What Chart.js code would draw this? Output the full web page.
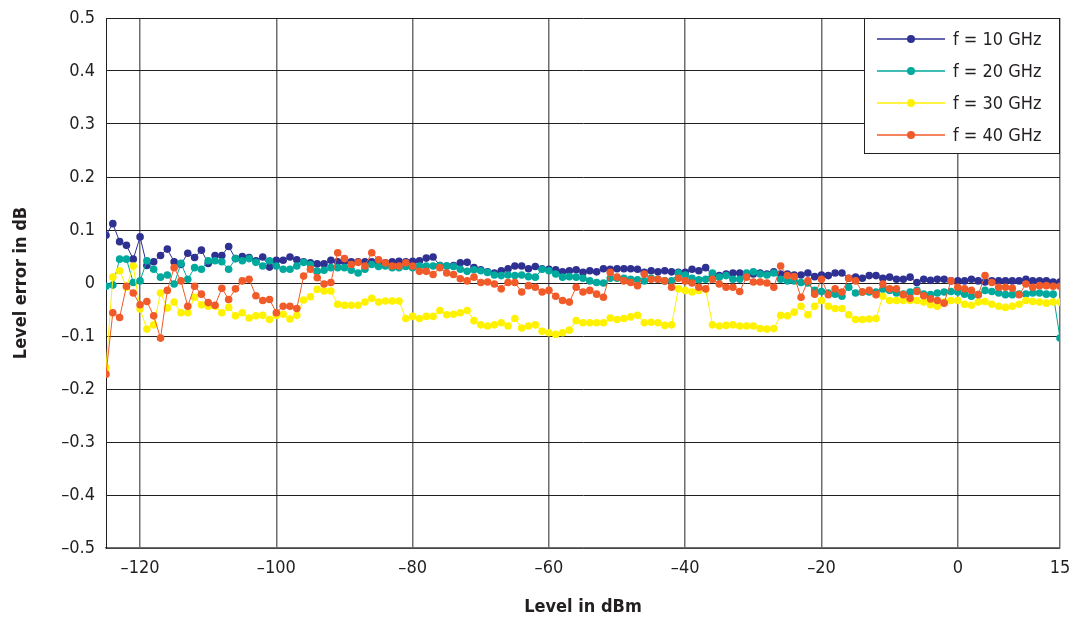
<!DOCTYPE html>
<html>
<head>
<meta charset="utf-8">
<script src="https://cdn.jsdelivr.net/npm/chart.js@4/dist/chart.umd.min.js"></script>
<style>
  html, body { margin: 0; padding: 0; background: #fff; }
  #wrap { width: 1077px; height: 626px; position: relative; }
</style>
</head>
<body>
<div id="wrap"><canvas id="chart"></canvas></div>
<script>
// Уровни (dBm), шаг 1 dB от -125 до 15
const levels = Array.from({ length: 141 }, (_, i) => -125 + i);

const xTickValues = [-120, -100, -80, -60, -40, -20, 0, 15];
const yTickValues = [-0.5, -0.4, -0.3, -0.2, -0.1, 0, 0.1, 0.2, 0.3, 0.4, 0.5];

const seriesNames = ['f = 10 GHz', 'f = 20 GHz', 'f = 30 GHz', 'f = 40 GHz'];
const seriesColors = ['#2e3192', '#00a99d', '#fff200', '#f15a29'];

const err10 = [
  0.09, 0.112, 0.078, 0.071, 0.045, 0.087, 0.033, 0.04, 0.052, 0.064,
  0.04, 0.035, 0.056, 0.048, 0.062, 0.037, 0.052, 0.052, 0.069, 0.046,
  0.05, 0.048, 0.042, 0.049, 0.03, 0.043, 0.043,
  0.049, 0.044, 0.04, 0.038, 0.036, 0.036, 0.043, 0.04, 0.04, 0.04,
  0.04, 0.04, 0.04, 0.038, 0.038, 0.04, 0.041, 0.04, 0.041, 0.042,
  0.047, 0.049, 0.033, 0.032, 0.033, 0.038, 0.039,
  0.029, 0.025, 0.021, 0.019, 0.023, 0.027, 0.032, 0.032, 0.027, 0.031,
  0.027, 0.026, 0.025, 0.021, 0.023, 0.025, 0.02, 0.023, 0.021, 0.027,
  0.026, 0.027, 0.027, 0.027, 0.026, 0.02, 0.023,
  0.021, 0.023, 0.021, 0.02, 0.02, 0.026, 0.023, 0.029, 0.015, 0.014,
  0.017, 0.019, 0.019, 0.014, 0.017, 0.019, 0.017, 0.021, 0.017, 0.017,
  0.015, 0.015, 0.019, 0.012,
  0.015, 0.014, 0.019, 0.019, 0.009, 0.011, 0.009, 0.014, 0.014, 0.009,
  0.011, 0.007, 0.007, 0.011, 0.001, 0.007, 0.005, 0.007, 0.007, 0.004,
  0.004, 0.004, 0.007, 0.004, 0.002, 0.004, 0.004, 0.004, 0.004, 0.004,
  0.007, 0.004, 0.004, 0.004, 0.002, 0.002,
];

const err20 = [
  -0.006, -0.004, 0.045, 0.045, 0.001, 0.004, 0.042, 0.026, 0.011, 0.015,
  -0.002, 0.037, 0.007, 0.029, 0.026, 0.042, 0.042, 0.04, 0.026, 0.046,
  0.042, 0.046, 0.039, 0.032, 0.042, 0.032, 0.026,
  0.026, 0.032, 0.039, 0.035, 0.022, 0.024, 0.029, 0.029, 0.029, 0.024,
  0.019, 0.026, 0.035, 0.031, 0.032, 0.029, 0.029, 0.031, 0.029, 0.032,
  0.032, 0.032, 0.033, 0.032, 0.031, 0.026, 0.022,
  0.025, 0.023, 0.02, 0.015, 0.014, 0.015, 0.014, 0.015, 0.012, 0.011,
  0.026, 0.023, 0.017, 0.011, 0.012, 0.011, 0.009, 0.004, 0.001, 0,
  0.009, 0.009, 0.009, 0.007, 0.006, 0.004, 0.009,
  0.007, 0.004, 0.004, 0.019, 0.015, 0.009, 0.006, 0.007, 0.019, 0.011,
  0.014, 0.007, 0.007, 0.019, 0.021, 0.017, 0.015, 0.019, 0.007, 0.004,
  0.004, 0.001, 0, -0.014,
  -0.016, -0.019, -0.021, -0.025, -0.008, -0.019, -0.017, -0.017, -0.017, -0.012,
  -0.014, -0.019, -0.021, -0.017, -0.014, -0.021, -0.022, -0.019, -0.017, -0.016,
  -0.017, -0.021, -0.025, -0.022, -0.014, -0.016, -0.019, -0.022, -0.022, -0.021,
  -0.021, -0.019, -0.019, -0.021, -0.021, -0.104,
];

const err30 = [
  -0.16, 0.011, 0.023, -0.008, 0.032, -0.049, -0.087, -0.079, -0.019, -0.047,
  -0.036, -0.056, -0.056, -0.027, -0.041, -0.044, -0.044, -0.056, -0.046, -0.062,
  -0.056, -0.066, -0.062, -0.061, -0.069, -0.061, -0.059,
  -0.068, -0.061, -0.032, -0.026, -0.012, -0.015, -0.015, -0.04, -0.042, -0.042,
  -0.042, -0.036, -0.029, -0.036, -0.034, -0.034, -0.034, -0.067, -0.063, -0.067,
  -0.063, -0.063, -0.052, -0.06, -0.059, -0.056, -0.052,
  -0.071, -0.079, -0.081, -0.079, -0.075, -0.081, -0.067, -0.085, -0.081, -0.079,
  -0.091, -0.094, -0.097, -0.094, -0.089, -0.071, -0.075, -0.075, -0.075, -0.075,
  -0.066, -0.069, -0.067, -0.064, -0.061, -0.075, -0.074,
  -0.075, -0.08, -0.079, -0.011, -0.014, -0.017, -0.014, -0.012, -0.079, -0.081,
  -0.08, -0.079, -0.081, -0.081, -0.081, -0.086, -0.087, -0.086, -0.061, -0.062,
  -0.055, -0.044, -0.06, -0.044,
  -0.033, -0.044, -0.048, -0.048, -0.06, -0.069, -0.069, -0.068, -0.067, -0.025,
  -0.033, -0.033, -0.033, -0.033, -0.033, -0.036, -0.041, -0.044, -0.036, -0.033,
  -0.033, -0.04, -0.042, -0.036, -0.035, -0.04, -0.044, -0.046, -0.044, -0.04,
  -0.033, -0.035, -0.036, -0.038, -0.036, -0.036,
];

const err40 = [
  -0.172, -0.056, -0.065, -0.006, -0.019, -0.041, -0.035, -0.062, -0.104, -0.014,
  0.029, 0.004, -0.044, -0.006, -0.021, -0.037, -0.042, -0.01, -0.031, -0.011,
  0.004, 0.007, -0.024, -0.033, -0.031, -0.056, -0.044,
  -0.044, -0.048, 0.013, 0.026, 0.01, -0.002, 0.001, 0.057, 0.046, 0.035,
  0.039, 0.032, 0.057, 0.044, 0.038, 0.032, 0.032, 0.038, 0.032, 0.022,
  0.022, 0.016, 0.029, 0.019, 0.016, 0.008, 0.004,
  0.011, 0.001, 0.002, -0.002, -0.011, 0.001, 0.001, -0.017, -0.005, -0.008,
  -0.017, -0.014, -0.025, -0.033, -0.036, -0.008, -0.017, -0.014, -0.021, -0.027,
  0.02, 0.011, 0.004, 0.001, -0.005, 0.017, 0.007,
  0.007, 0.004, -0.008, 0.009, 0.004, 0, -0.008, -0.011, 0.007, -0.002,
  -0.008, -0.008, -0.016, 0.011, 0.002, 0.002, 0, -0.008, 0.032, 0.014,
  0.012, -0.027, 0.004, -0.021,
  0.007, -0.022, -0.011, -0.017, 0.009, 0.004, -0.017, -0.014, -0.022, -0.002,
  -0.011, -0.011, -0.022, -0.029, -0.016, -0.024, -0.03, -0.033, -0.038, 0.004,
  -0.008, -0.011, -0.014, -0.022, 0.014, 0.001, -0.008, -0.008, -0.01, -0.022,
  -0.002, -0.008, -0.005, -0.005, -0.006, -0.006,
];

const allSeries = [err10, err20, err30, err40];

const FONT = "'Liberation Sans Narrow', 'DejaVu Sans Condensed', 'Arial Narrow', sans-serif";
const TEXT_COLOR = '#231f20';

// en dash вместо минуса, как на оригинале
const fmt = (v) => {
  const r = Math.round(v * 10) / 10;
  if (r === 0) return '0';
  return r < 0 ? '\u2013' + String(-r) : String(r);
};

// Убираем автоматические отступы под подписи, чтобы поле графика стояло точно
const noLabelPadding = (scale) => {
  scale.paddingTop = 0;
  scale.paddingBottom = 0;
  scale.paddingLeft = 0;
  scale.paddingRight = 0;
};

// Легенда внутри поля графика, справа сверху
const insideLegend = {
  id: 'insideLegend',
  afterDraw(chart) {
    const { ctx, chartArea } = chart;
    const boxW = 196, boxH = 136;
    const x0 = chartArea.right - boxW, y0 = chartArea.top;
    ctx.save();
    ctx.fillStyle = '#fff';
    ctx.fillRect(x0, y0, boxW, boxH);
    ctx.strokeStyle = '#231f20';
    ctx.lineWidth = 1;
    ctx.strokeRect(x0 + 0.5, y0 + 0.5, boxW - 1, boxH - 1);
    ctx.font = '18px ' + FONT;
    ctx.textBaseline = 'middle';
    ctx.textAlign = 'left';
    chart.data.datasets.forEach((ds, i) => {
      const cy = y0 + 21 + i * 32;
      ctx.strokeStyle = ds.borderColor;
      ctx.lineWidth = 1.5;
      ctx.beginPath();
      ctx.moveTo(x0 + 13, cy);
      ctx.lineTo(x0 + 81, cy);
      ctx.stroke();
      ctx.fillStyle = ds.pointBackgroundColor;
      ctx.beginPath();
      ctx.arc(x0 + 47, cy, 4, 0, Math.PI * 2);
      ctx.fill();
      ctx.fillStyle = TEXT_COLOR;
      ctx.fillText(ds.label, x0 + 89, cy + 1);
    });
    ctx.restore();
  },
};

const datasets = allSeries.map((vals, i) => ({
  label: seriesNames[i],
  data: levels.map((lv, k) => ({ x: lv, y: vals[k] })),
  borderColor: seriesColors[i],
  backgroundColor: seriesColors[i],
  pointBackgroundColor: seriesColors[i],
  pointBorderWidth: 0,
  pointRadius: 3.8,
  borderWidth: 1,
  tension: 0,
  order: 4 - i,
}));

new Chart(document.getElementById('chart'), {
  type: 'line',
  data: { datasets },
  options: {
    responsive: true,
    maintainAspectRatio: false,
    animation: false,
    layout: { padding: { top: 18, right: 17, left: 0, bottom: 0 } },
    plugins: { legend: { display: false }, tooltip: { enabled: false } },
    scales: {
      x: {
        type: 'linear',
        min: -125,
        max: 15,
        afterBuildTicks: (scale) => { scale.ticks = xTickValues.map((v) => ({ value: v })); },
        afterFit: (scale) => { scale.height = 78; noLabelPadding(scale); },
        grid: { color: '#6e6e6e', lineWidth: 1.5, drawTicks: false },
        border: { color: '#6e6e6e', width: 1.5 },
        ticks: {
          color: TEXT_COLOR,
          font: { family: FONT, size: 18 },
          padding: 10,
          maxRotation: 0,
          autoSkip: false,
          callback: (v) => fmt(v),
        },
        title: {
          display: true,
          text: 'Level in dBm',
          color: TEXT_COLOR,
          font: { family: FONT, size: 18, weight: 'bold' },
          padding: { top: 0, bottom: 8 },
        },
      },
      y: {
        type: 'linear',
        min: -0.5,
        max: 0.5,
        afterBuildTicks: (scale) => { scale.ticks = yTickValues.map((v) => ({ value: v })); },
        afterFit: (scale) => { scale.width = 106; noLabelPadding(scale); },
        grid: { color: '#231f20', lineWidth: 1, drawTicks: false },
        border: { color: '#231f20', width: 1 },
        ticks: {
          color: TEXT_COLOR,
          font: { family: FONT, size: 18 },
          padding: 11,
          callback: (v) => fmt(v),
        },
        title: {
          display: true,
          text: 'Level error in dB',
          color: TEXT_COLOR,
          font: { family: FONT, size: 18, weight: 'bold' },
          padding: { top: 11, bottom: 0 },
        },
      },
    },
  },
  plugins: [insideLegend],
});
</script>
</body>
</html>
